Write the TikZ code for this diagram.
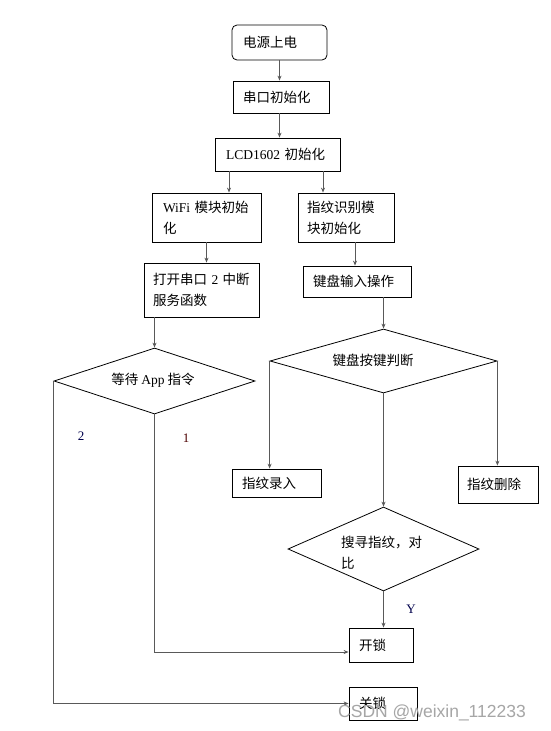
\documentclass[tikz,border=0pt]{standalone}
\usepackage{fontspec}
\setmainfont{Liberation Serif}
\newfontfamily\cjk{Noto Sans CJK SC}
\newfontfamily\lat{Liberation Serif}
\newfontfamily\wmfont{Liberation Sans}
\usetikzlibrary{shapes.geometric,arrows.meta}
\begin{document}
\begin{tikzpicture}[x=1pt,y=-1pt,
  txt/.style={font=\cjk\fontsize{13.5}{21}\selectfont},
  box/.style={draw, line width=0.8pt, inner ysep=0pt, align=left, txt},
  dia/.style={draw, diamond, line width=0.8pt, inner sep=0pt},
  conn/.style={draw=black!65, line width=1pt, -{Stealth[length=5pt,width=4pt]}},
  lbl/.style={font=\lat\fontsize{13}{15}\selectfont, inner sep=0pt}]
\useasboundingbox (0,0) rectangle (550,731);
\fill[white] (0,0) rectangle (550,731);

% boxes
\node[box, rounded corners=5pt, minimum height=35pt, inner xsep=11pt, text width=73pt] (n1) at (279.5,42.5) {电源上电};
\node[box, minimum height=32pt, inner xsep=10pt, text width=76pt] (n2) at (281,97) {串口初始化};
\node[box, minimum height=33pt, inner xsep=11pt, text width=103pt] (n3) at (277.5,154.5) {{\lat LCD1602} 初始化};
\node[box, minimum height=49pt, inner xsep=11pt, text width=87pt] (n4) at (206.5,217.5) {{\lat WiFi} 模块初始\\化};
\node[box, minimum height=49pt, inner xsep=9pt, text width=78pt] (n5) at (346,217.5) {指纹识别模\\块初始化};
\node[box, minimum height=54pt, inner xsep=9pt, text width=97pt] (n6) at (201.5,290) {打开串口 {\lat 2} 中断\\服务函数};
\node[box, minimum height=31pt, inner xsep=10pt, text width=88pt] (n7) at (357,281.5) {键盘输入操作};
\node[box, minimum height=28pt, inner xsep=10pt, text width=69pt] (n8) at (276.5,483) {指纹录入};
\node[box, minimum height=37pt, inner xsep=9pt, text width=62pt] (n9) at (498,484.5) {指纹删除};
\node[box, minimum height=34pt, inner xsep=10pt, text width=44pt] (n10) at (381,645) {开锁};
\node[box, minimum height=33pt, inner xsep=10pt, text width=48pt] (n11) at (383,703.5) {关锁};

% diamonds
\node[dia, minimum width=201pt, minimum height=66pt] (d1) at (154.5,381) {};
\node[txt, inner sep=0pt] (t1) at (153,380) {等待 {\lat App} 指令};
\node[dia, minimum width=227pt, minimum height=64pt] (d2) at (383.5,361) {};
\node[txt, inner sep=0pt] (t2) at (373,360) {键盘按键判断};
\node[dia, minimum width=191pt, minimum height=84pt] (d3) at (383.5,549) {};
\node[txt, inner sep=0pt, anchor=west, align=left] (t3) at (341,553) {搜寻指纹，对\\比};

% labels
\node[lbl, text=black!70!blue] (l2) at (81,436) {2};
\node[lbl, text=black!70!red] (l1) at (186,438) {1};
\node[lbl, text=black!70!blue] (ly) at (411,609) {Y};

% helper x positions
\coordinate (lx) at (229,0);
\coordinate (rx) at (323,0);
\coordinate (zx) at (355,0);

% connectors
\draw[conn] (n1.south) -- (n1.south |- n2.north);
\draw[conn] (n1.south |- n2.south) -- (n1.south |- n3.north);
\draw[conn] (n3.south -| lx) -- (n4.north -| lx);
\draw[conn] (n3.south -| rx) -- (n5.north -| rx);
\draw[conn] (n4.south) -- (n4.south |- n6.north);
\draw[conn] (n5.south -| zx) -- (n7.north -| zx);
\draw[conn] (d1.north |- n6.south) -- (d1.north);
\draw[conn] (d2.north |- n7.south) -- (d2.north);
\draw[conn] (d1.south) |- ([yshift=-7pt]n10.west);
\draw[conn] (d1.west) |- (n11.west);
\draw[conn] (d2.west) -- (d2.west |- n8.north);
\draw[conn] (d2.east) -- (d2.east |- n9.north);
\draw[conn] (d2.south) -- (d2.south |- d3.north);
\draw[conn] (d3.south) -- (d3.south |- n10.north);

% watermark
\node[font=\wmfont\fontsize{17.5}{20}\selectfont, text=black!35, anchor=west, inner sep=0pt] (wm) at (338,713) {CSDN @weixin\_112233};
\end{tikzpicture}
\end{document}
